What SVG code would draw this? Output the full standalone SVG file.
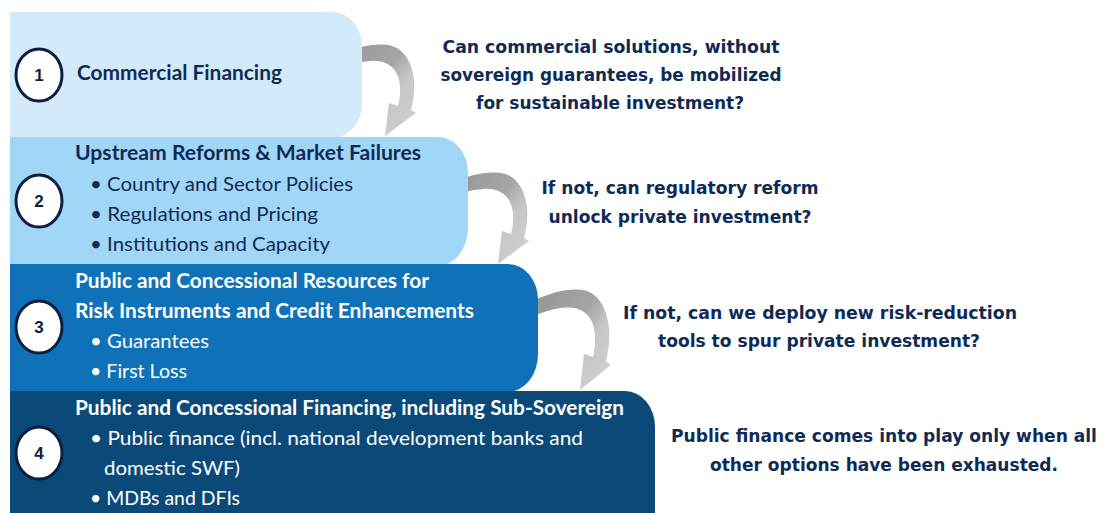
<svg xmlns="http://www.w3.org/2000/svg" width="1106" height="513" viewBox="0 0 1106 513">
<style>
.lt{font-family:Lato,"Open Sans","Liberation Sans",sans-serif;font-size:20px}
.b{font-weight:bold}
.dk{fill:#0F2B55}
.wh{fill:#FFFFFF}
.q{font-family:"DejaVu Sans","Liberation Sans",sans-serif;font-weight:bold;font-size:18px;fill:#0F2B55;text-anchor:middle}
.q16{font-size:16px}
.circ{fill:#FFFFFF;stroke:#0B1F3F;stroke-width:3}
.num{font-family:"Liberation Sans",Arial,sans-serif;font-weight:bold;font-size:17px;fill:#0B1F3F;text-anchor:middle}
</style>
<defs>
<linearGradient id="ag" x1="0" y1="0" x2="1" y2="1">
<stop offset="0" stop-color="#959595"/>
<stop offset="0.45" stop-color="#a6a6a6"/>
<stop offset="0.62" stop-color="#c6c6c6"/>
<stop offset="1" stop-color="#d2d2d2"/>
</linearGradient>
<path id="arr" d="M340,54 C355,48 372,43 388,45 C402,47 412,60 414,80 C415,92 413,102 411,110 L416,113 L385,136 L389,103 L398,106 C401,95 401,82 397,74 C392,64 382,60 370,61 C358,62 350,65 340,68 Z" fill="url(#ag)"/>
</defs>
<rect width="1106" height="513" fill="#FFFFFF"/>
<g id="connectors">
<use href="#arr"/>
<use href="#arr" transform="translate(113,128)"/>
<use href="#arr" transform="translate(580,389) scale(1,1.1) translate(-385,-135)"/>
</g>
<g id="node1">
<path d="M10,12 H332 A30,34 0 0 1 362,46 V104 A30,34 0 0 1 332,138 H10 Z" fill="#D2EAFA"/>
<ellipse class="circ" cx="39" cy="75" rx="23" ry="26"/>
<text class="num" x="39" y="81">1</text>
<text class="lt b dk" x="77" y="80" textLength="205" lengthAdjust="spacingAndGlyphs">Commercial Financing</text>
</g>
<g id="node2">
<path d="M10,137 H438 A30,36 0 0 1 468,173 V228 A30,38 0 0 1 438,266 H10 Z" fill="#A2D6F6"/>
<ellipse class="circ" cx="39" cy="201" rx="23" ry="26"/>
<text class="num" x="39" y="207">2</text>
<text class="lt b dk" x="75" y="160" textLength="346" lengthAdjust="spacingAndGlyphs">Upstream Reforms &amp; Market Failures</text>
<text class="lt dk" x="90" y="191" textLength="263" lengthAdjust="spacingAndGlyphs">• Country and Sector Policies</text>
<text class="lt dk" x="90" y="221" textLength="228" lengthAdjust="spacingAndGlyphs">• Regulations and Pricing</text>
<text class="lt dk" x="90" y="251" textLength="240" lengthAdjust="spacingAndGlyphs">• Institutions and Capacity</text>
</g>
<g id="node3">
<path d="M10,264 H508 A30,36 0 0 1 538,300 V354 A30,38 0 0 1 508,392 H10 Z" fill="#0F71B7"/>
<ellipse class="circ" cx="39" cy="327" rx="23" ry="26"/>
<text class="num" x="39" y="333">3</text>
<text class="lt b wh" x="75" y="288" textLength="354" lengthAdjust="spacingAndGlyphs">Public and Concessional Resources for</text>
<text class="lt b wh" x="75" y="318" textLength="399" lengthAdjust="spacingAndGlyphs">Risk Instruments and Credit Enhancements</text>
<text class="lt wh" x="90" y="348" textLength="119" lengthAdjust="spacingAndGlyphs">• Guarantees</text>
<text class="lt wh" x="90" y="378" textLength="97" lengthAdjust="spacingAndGlyphs">• First Loss</text>
</g>
<g id="node4">
<path d="M10,391 H625 A30,36 0 0 1 655,427 V520 H10 Z" fill="#0B4A78"/>
<ellipse class="circ" cx="39" cy="453" rx="23" ry="26"/>
<text class="num" x="39" y="459">4</text>
<text class="lt b wh" x="75" y="415" textLength="549" lengthAdjust="spacingAndGlyphs">Public and Concessional Financing, including Sub-Sovereign</text>
<text class="lt wh" x="90" y="445" textLength="493" lengthAdjust="spacingAndGlyphs">• Public finance (incl. national development banks and</text>
<text class="lt wh" x="104" y="475" textLength="136" lengthAdjust="spacingAndGlyphs">domestic SWF)</text>
<text class="lt wh" x="90" y="505" textLength="150" lengthAdjust="spacingAndGlyphs">• MDBs and DFIs</text>
</g>
<g id="questions">
<text class="q" x="611" y="53" textLength="337" lengthAdjust="spacingAndGlyphs">Can commercial solutions, without</text>
<text class="q" x="611" y="81" textLength="341" lengthAdjust="spacingAndGlyphs">sovereign guarantees, be mobilized</text>
<text class="q" x="610" y="109" textLength="268" lengthAdjust="spacingAndGlyphs">for sustainable investment?</text>
<text class="q" x="680" y="194" textLength="277" lengthAdjust="spacingAndGlyphs">If not, can regulatory reform</text>
<text class="q" x="680" y="223" textLength="263" lengthAdjust="spacingAndGlyphs">unlock private investment?</text>
<text class="q" x="820" y="319" textLength="394" lengthAdjust="spacingAndGlyphs">If not, can we deploy new risk-reduction</text>
<text class="q" x="819" y="347" textLength="322" lengthAdjust="spacingAndGlyphs">tools to spur private investment?</text>
<g transform="translate(0,442) scale(1,1.125)">
<text class="q q16" x="884" y="0" textLength="426" lengthAdjust="spacingAndGlyphs">Public finance comes into play only when all</text>
<text class="q q16" x="884" y="25.8" textLength="348" lengthAdjust="spacingAndGlyphs">other options have been exhausted.</text>
</g>
</g>
</svg>
